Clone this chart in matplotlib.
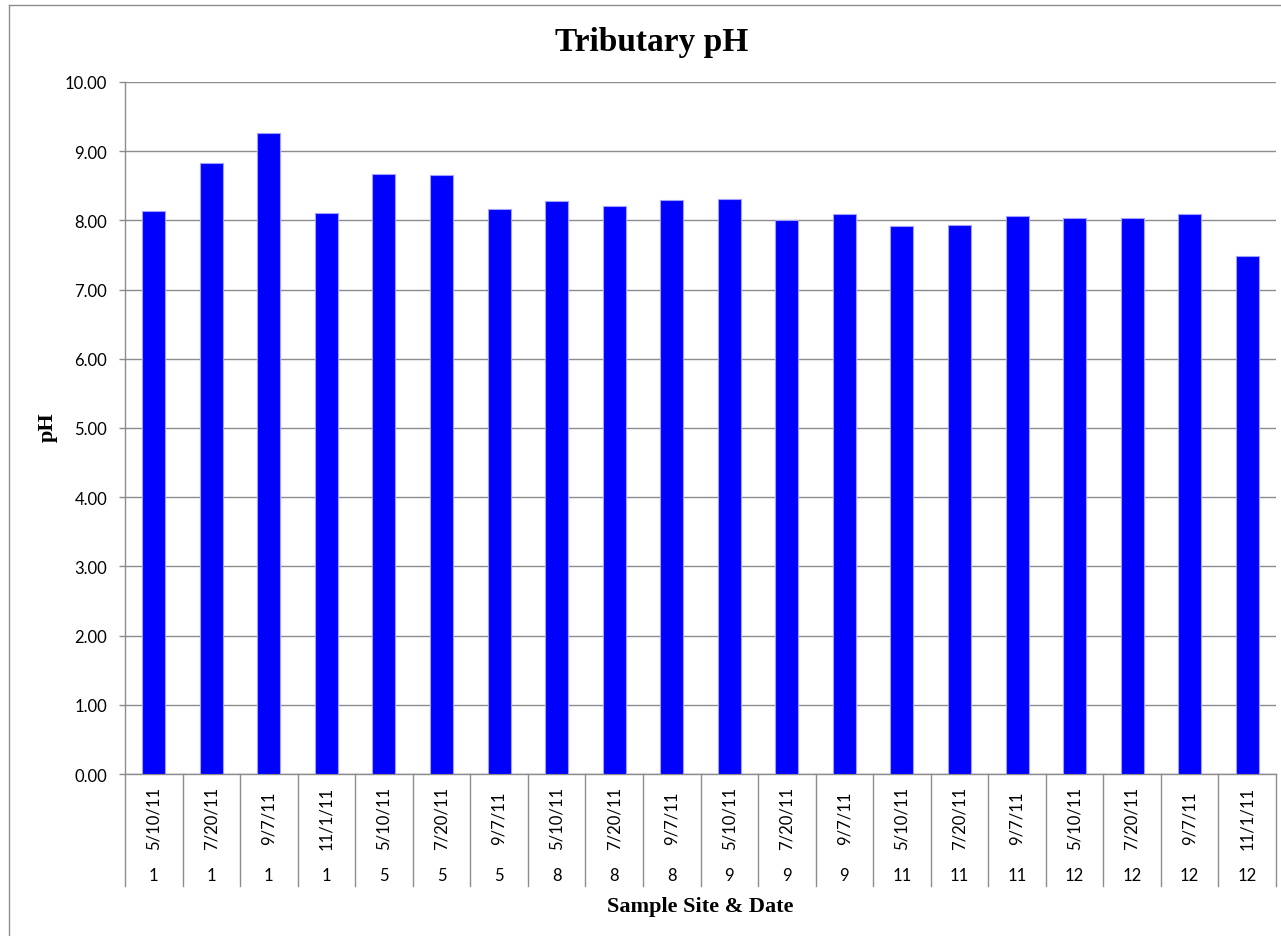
import matplotlib.pyplot as plt
import matplotlib.transforms as mtransforms
from matplotlib.lines import Line2D

sites = ['1', '1', '1', '1', '5', '5', '5', '8', '8', '8',
         '9', '9', '9', '11', '11', '11', '12', '12', '12', '12']
dates = ['5/10/11', '7/20/11', '9/7/11', '11/1/11', '5/10/11', '7/20/11', '9/7/11',
         '5/10/11', '7/20/11', '9/7/11', '5/10/11', '7/20/11', '9/7/11',
         '5/10/11', '7/20/11', '9/7/11', '5/10/11', '7/20/11', '9/7/11', '11/1/11']
ph = [8.14, 8.83, 9.26, 8.10, 8.67, 8.65, 8.16, 8.28, 8.21, 8.29,
      8.31, 8.01, 8.09, 7.92, 7.94, 8.07, 8.04, 8.04, 8.09, 7.49]

W, H = 1281, 937
grey = '#8c8c8c'
serif = 'Liberation Serif'
sans = 'Lato'

fig = plt.figure(figsize=(W / 100, H / 100), dpi=100)
ax = fig.add_axes([125 / W, 1 - 775 / H, (1276 - 125) / W, (775 - 83) / H])

x = list(range(len(ph)))
ax.bar(x, ph, width=0.4, color='#0000FF', edgecolor='#a0a0ff', linewidth=0.8, zorder=3)

ax.set_xlim(-0.5, len(ph) - 0.5)
ax.set_ylim(0, 10)
ax.set_yticks(range(0, 11))
ax.set_yticklabels(['%.2f' % v for v in range(0, 11)], fontfamily=sans, fontsize=12)
ax.tick_params(axis='y', length=4.3, width=1, color=grey, pad=8.5)
ax.set_xticks([])
ax.grid(axis='y', color=grey, linewidth=1, zorder=0)
ax.set_axisbelow(True)
for s in ['top', 'right']:
    ax.spines[s].set_visible(False)
for s in ['left', 'bottom']:
    ax.spines[s].set_color(grey)
    ax.spines[s].set_linewidth(1)

# category labels below the axis (date rotated, site below)
tr = mtransforms.blended_transform_factory(ax.transData, fig.transFigure)
for i in x:
    ax.text(i, 1 - 818 / H, dates[i], rotation=90, ha='center', va='center',
            fontfamily=sans, fontsize=12, transform=tr)
    ax.text(i, 1 - 876 / H, sites[i], ha='center', va='center',
            fontfamily=sans, fontsize=12, transform=tr)
for b in range(len(ph) + 1):
    ax.plot([b - 0.5, b - 0.5], [1 - 775 / H, 1 - 887 / H], color=grey,
            linewidth=1, transform=tr, clip_on=False)

fig.text(652 / W, 1 - 50.7 / H, 'Tributary pH', ha='center', va='baseline',
         fontfamily=serif, fontweight='bold', fontsize=24)
fig.text(700 / W, 1 - 912 / H, 'Sample Site & Date', ha='center', va='baseline',
         fontfamily=serif, fontweight='bold', fontsize=16)
fig.text(48 / W, 1 - 427 / H, 'pH', rotation=90, ha='center', va='center',
         fontfamily=serif, fontweight='bold', fontsize=16)

# chart area border (right and bottom edges are cropped off)
fig.add_artist(Line2D([9 / W, 9 / W], [0, 1 - 6 / H], color=grey, linewidth=1))
fig.add_artist(Line2D([9 / W, 1], [1 - 6 / H, 1 - 6 / H], color=grey, linewidth=1))

fig.savefig('out.png', dpi=100)
